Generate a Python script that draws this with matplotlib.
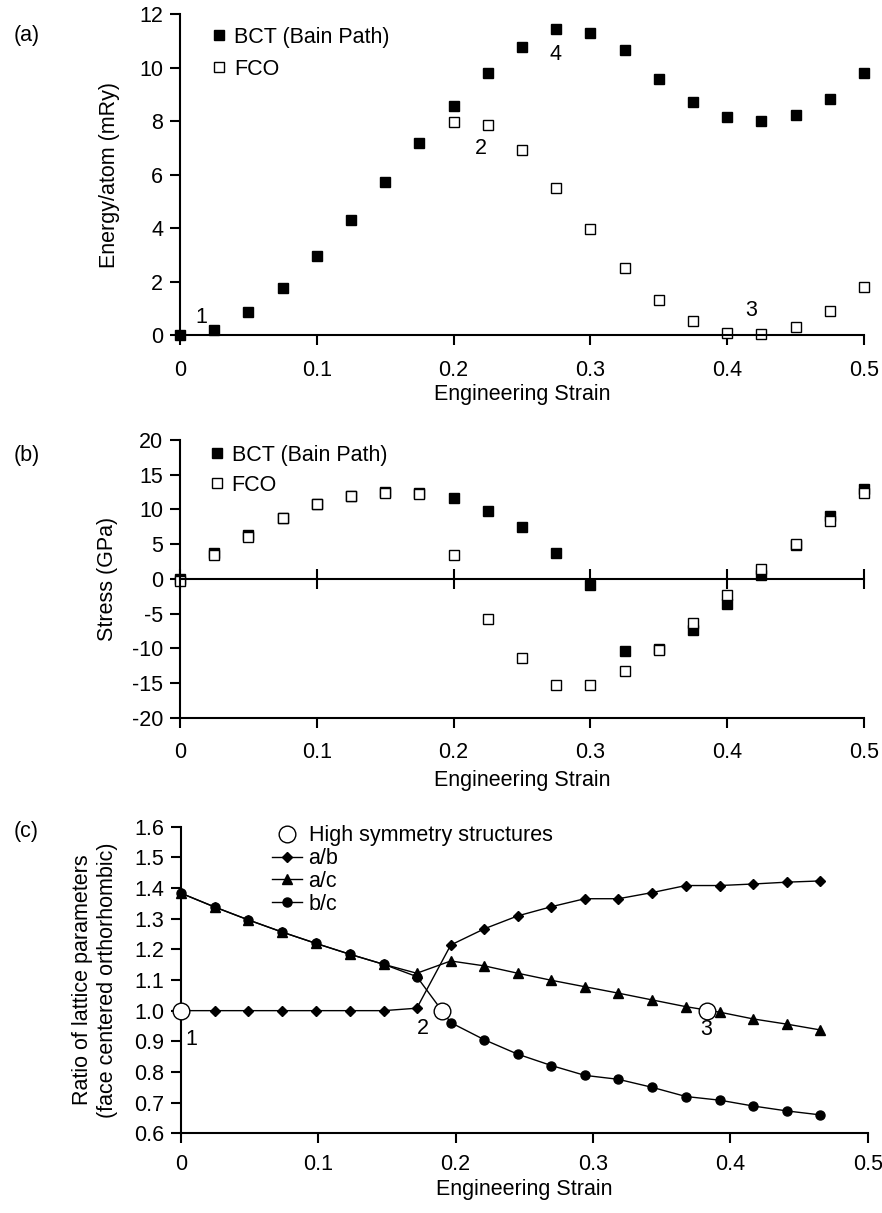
import matplotlib
matplotlib.use('Agg')
import matplotlib.pyplot as plt

plt.rcParams['font.family'] = ['Liberation Sans', 'DejaVu Sans']
plt.rcParams['font.size'] = 15.5
plt.rcParams['axes.unicode_minus'] = False

# (a) energy vs strain
strain_a = [0, 0.025, 0.05, 0.075, 0.1, 0.125, 0.15, 0.175, 0.2, 0.225, 0.25,
            0.275, 0.3, 0.325, 0.35, 0.375, 0.4, 0.425, 0.45, 0.475, 0.5]
energy_bct = [0, 0.19, 0.85, 1.77, 2.94, 4.29, 5.73, 7.19, 8.56, 9.79, 10.78,
              11.43, 11.28, 10.64, 9.57, 8.71, 8.17, 8.01, 8.22, 8.83, 9.79]
strain_fco_a = [0.2, 0.225, 0.25, 0.275, 0.3, 0.325, 0.35, 0.375, 0.4, 0.425,
                0.45, 0.475, 0.5]
energy_fco = [7.96, 7.84, 6.90, 5.51, 3.95, 2.50, 1.32, 0.51, 0.09, 0.03,
              0.31, 0.91, 1.81]

# (b) stress vs strain
stress_bct = [0, 3.7, 6.3, 8.8, 10.8, 12.0, 12.5, 12.3, 11.7, 9.8, 7.5,
              3.8, -0.9, -10.3, -10.1, -7.3, -3.6, 0.6, 4.9, 9.0, 13.0]
stress_fco = [-0.3, 3.5, 6.1, 8.8, 10.8, 11.9, 12.4, 12.2, 3.45, -5.7, -11.4,
              -15.2, -15.2, -13.3, -10.2, -6.4, -2.35, 1.4, 5.0, 8.35, 12.3]

# (c) lattice parameter ratios
strain_c = [0, 0.0245, 0.049, 0.0738, 0.0985, 0.1229, 0.1476, 0.1717, 0.1964,
            0.2209, 0.2452, 0.2697, 0.294, 0.3185, 0.343, 0.3676, 0.3923,
            0.4166, 0.4411, 0.4656]
ratio_ab = [1.0, 1.0, 1.0, 1.0, 1.0, 1.0, 1.0, 1.008, 1.214, 1.267, 1.309,
            1.339, 1.365, 1.365, 1.385, 1.408, 1.408, 1.413, 1.419, 1.423]
ratio_ac = [1.383, 1.338, 1.296, 1.256, 1.219, 1.184, 1.151, 1.122, 1.162,
            1.146, 1.122, 1.099, 1.078, 1.057, 1.035, 1.013, 0.995, 0.973,
            0.956, 0.937]
ratio_bc = [1.383, 1.338, 1.296, 1.256, 1.219, 1.184, 1.151, 1.111, 0.961,
            0.905, 0.858, 0.821, 0.789, 0.776, 0.750, 0.720, 0.708, 0.689,
            0.673, 0.660]
sym_strain = [0, 0.190, 0.383]
sym_ratio = [1.0, 1.0, 1.0]

xticks = [0, 0.1, 0.2, 0.3, 0.4, 0.5]
xticklabels = ['0', '0.1', '0.2', '0.3', '0.4', '0.5']

fig = plt.figure(figsize=(8.82, 12.13), dpi=100)


def style_axes(ax, xpad):
    for s in ['top', 'right']:
        ax.spines[s].set_visible(False)
    for s in ['left', 'bottom']:
        ax.spines[s].set_linewidth(1.5)
    ax.tick_params(direction='out', length=7, width=1.5, pad=5,
                   labelsize=15.5)
    ax.tick_params(axis='x', pad=xpad)


# ---- panel (a)
ax1 = fig.add_axes([0.2041, 0.7238, 0.7755, 0.2646])
style_axes(ax1, 11)
ax1.plot(strain_a, energy_bct, 's', color='black', ms=6.5, mew=1,
         clip_on=False, label='BCT (Bain Path)')
ax1.plot(strain_fco_a, energy_fco, 's', mfc='white', mec='black', ms=6.5,
         mew=1, clip_on=False, label='FCO')
ax1.set_xlim(0, 0.5)
ax1.set_ylim(0, 12)
ax1.set_xticks(xticks)
ax1.set_xticklabels(xticklabels)
ax1.set_yticks(range(0, 13, 2))
ax1.set_xlabel('Engineering Strain', labelpad=2)
ax1.set_ylabel('Energy/atom (mRy)', labelpad=14)
ax1.legend(loc='upper left', bbox_to_anchor=(0.045, 0.96), frameon=False,
           handlelength=0.8, handletextpad=0.3, borderpad=0,
           borderaxespad=0, labelspacing=0.5)
for txt, x, y in [('1', 0.0153, 0.64), ('2', 0.2197, 6.99),
                  ('4', 0.2745, 10.5), ('3', 0.4175, 0.93)]:
    ax1.text(x, y, txt, ha='center', va='center')
fig.text(0.015, 1 - 35 / 1213, '(a)', va='center', fontsize=15.5)

# ---- panel (b)
ax2 = fig.add_axes([0.2041, 0.4081, 0.7755, 0.2292])
style_axes(ax2, 5)
ax2.plot(strain_a, stress_bct, 's', color='black', ms=6.5, mew=1,
         clip_on=False, label='BCT (Bain Path)')
ax2.plot(strain_a, stress_fco, 's', mfc='white', mec='black', ms=6.5,
         mew=1, clip_on=False, label='FCO')
ax2.set_xlim(0, 0.5)
ax2.set_ylim(-20, 20)
ax2.set_yticks(range(-20, 21, 5))
ax2.set_xticks(xticks)
ax2.spines['bottom'].set_position(('data', 0))
ax2.tick_params(axis='x', direction='inout', length=14, labelbottom=False)
sec = ax2.secondary_xaxis('bottom')
sec.set_xticks(xticks)
sec.set_xticklabels(xticklabels)
sec.spines['bottom'].set_linewidth(1.5)
sec.tick_params(direction='out', length=7, width=1.5, pad=10, labelsize=15.5)
sec.set_xlabel('Engineering Strain', labelpad=5)
ax2.set_ylabel('Stress (GPa)', labelpad=10)
ax2.legend(loc='upper left', bbox_to_anchor=(0.041, 0.982), frameon=False,
           handlelength=0.8, handletextpad=0.3, borderpad=0,
           borderaxespad=0, labelspacing=0.4)
fig.text(0.015, 1 - 456 / 1213, '(b)', va='center', fontsize=15.5)

# ---- panel (c)
ax3 = fig.add_axes([0.2052, 0.0657, 0.7786, 0.2528])
style_axes(ax3, 8)
ax3.plot(sym_strain, sym_ratio, 'o', mfc='white', mec='black', ms=12,
         mew=1, clip_on=False, zorder=4, label='High symmetry structures')
ax3.plot(strain_c, ratio_ab, '-D', color='black', lw=1, ms=5.5,
         clip_on=False, label='a/b')
ax3.plot(strain_c, ratio_ac, '-^', color='black', lw=1, ms=7,
         clip_on=False, label='a/c')
ax3.plot(strain_c, ratio_bc, '-o', color='black', lw=1, ms=6.5,
         clip_on=False, label='b/c')
ax3.set_xlim(0, 0.5)
ax3.set_ylim(0.6, 1.6)
ax3.set_xticks(xticks)
ax3.set_xticklabels(xticklabels)
yt = [0.6, 0.7, 0.8, 0.9, 1.0, 1.1, 1.2, 1.3, 1.4, 1.5, 1.6]
ax3.set_yticks(yt)
ax3.set_yticklabels(['%.1f' % v for v in yt])
ax3.set_xlabel('Engineering Strain', labelpad=3)
ax3.set_ylabel('Ratio of lattice parameters\n(face centered orthorhombic)',
               labelpad=12, linespacing=1.2)
ax3.legend(loc='upper left', bbox_to_anchor=(0.1325, 1.004), frameon=False,
           handlelength=1.4, handletextpad=0.3, borderpad=0,
           borderaxespad=0, labelspacing=0.08)
for txt, x, y in [('1', 0.0075, 0.906), ('2', 0.176, 0.941),
                  ('3', 0.3824, 0.94)]:
    ax3.text(x, y, txt, ha='center', va='center')
fig.text(0.015, 1 - 831 / 1213, '(c)', va='center', fontsize=15.5)

fig.savefig('out.png', dpi=100)
